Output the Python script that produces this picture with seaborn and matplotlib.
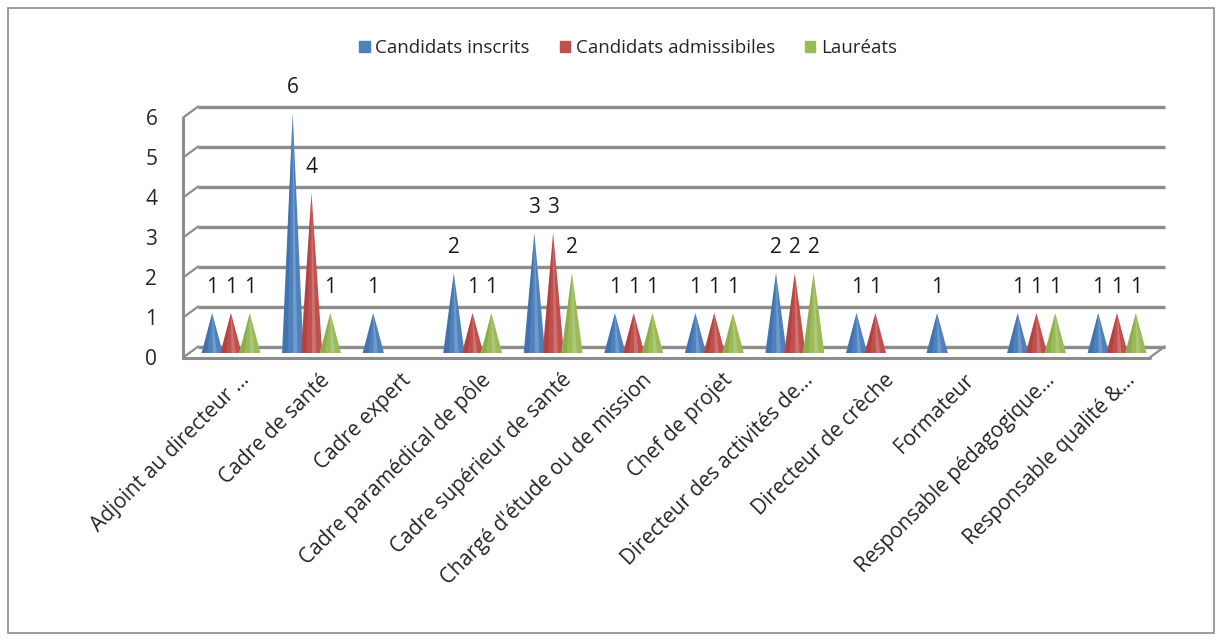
import matplotlib
matplotlib.use("Agg")
import matplotlib.pyplot as plt
import matplotlib.transforms as mtransforms
from matplotlib.patches import Polygon, Rectangle
import seaborn as sns
import pandas as pd

# chart data
categories = ["Adjoint au directeur ...", "Cadre de santé", "Cadre expert",
              "Cadre paramédical de pôle", "Cadre supérieur de santé",
              "Chargé d'étude ou de mission", "Chef de projet",
              "Directeur des activités de...", "Directeur de crèche",
              "Formateur", "Responsable pédagogique...", "Responsable qualité &..."]
inscrits = [1, 6, 1, 2, 3, 1, 1, 2, 1, 1, 1, 1]
admissibles = [1, 4, 0, 1, 3, 1, 1, 2, 1, 0, 1, 1]
laureats = [1, 1, 0, 1, 2, 1, 1, 2, 0, 0, 1, 1]
series = ["Candidats inscrits", "Candidats admissibiles", "Lauréats"]
colors = ["#4F81BD", "#C0504D", "#9BBB59"]
shades = ["#2C5C99", "#9B2F2C", "#76963A"]

df = pd.DataFrame({
    "poste": categories * 3,
    "serie": [series[0]] * 12 + [series[1]] * 12 + [series[2]] * 12,
    "n": inscrits + admissibles + laureats,
})

sns.set_style("white")
plt.rcParams["font.family"] = ["Open Sans", "DejaVu Sans"]

W, H = 1224, 641
fig = plt.figure(figsize=(W / 100, H / 100), dpi=100)
ax = fig.add_axes([190.7 / W, 1 - 353 / H, 966.6 / W, 240 / H])
sns.barplot(data=df, x="poste", y="n", hue="serie", hue_order=series,
            palette=colors, width=0.7, ax=ax, legend=False)

n = len(categories)
ax.set_ylim(0, 6)
ax.set_xlim(-0.5, n - 0.5)

grid = "#8C8C8C"
front = ax.transData + mtransforms.ScaledTranslation(-0.075, -0.045, fig.dpi_scale_trans)
back = ax.transData + mtransforms.ScaledTranslation(0.075, 0.065, fig.dpi_scale_trans)

# back wall grid lines and left wall connectors
for v in range(0, 7):
    ax.plot([-0.5, n - 0.5], [v, v], color=grid, lw=2.4, transform=back,
            zorder=0, clip_on=False, solid_capstyle="butt")
    p0 = front.transform((-0.5, v))
    p1 = back.transform((-0.5, v))
    fig.add_artist(plt.Line2D([p0[0] / W, p1[0] / W], [p0[1] / H, p1[1] / H],
                              color=grid, lw=1.6, transform=fig.transFigure))
# front left wall and floor edge
ax.plot([-0.5, -0.5], [0, 6], color=grid, lw=2.2, transform=front,
        clip_on=False, zorder=0)
ax.plot([-0.5, n - 0.5], [0, 0], color=grid, lw=2.2, transform=front,
        clip_on=False, zorder=0)
q0 = front.transform((n - 0.5, 0))
q1 = back.transform((n - 0.5, 0))
fig.add_artist(plt.Line2D([q0[0] / W, q1[0] / W], [q0[1] / H, q1[1] / H],
                          color=grid, lw=1.6, transform=fig.transFigure))

# turn bars into cones
for cont, col, sh in zip(ax.containers, colors, shades):
    for bar in cont:
        h = bar.get_height()
        w = bar.get_width() * 1.14
        x = bar.get_x() + bar.get_width() / 2 - w / 2
        bar.set_visible(False)
        if h <= 0:
            continue
        ax.add_patch(Polygon([(x, 0), (x + w / 2, h), (x + w, 0)],
                             closed=True, facecolor=col, edgecolor="none",
                             zorder=3))
        ax.add_patch(Polygon([(x + w * 0.04, 0), (x + w / 2, h),
                              (x + w * 0.26, 0)],
                             closed=True, facecolor=sh, edgecolor="none",
                             alpha=0.4, zorder=4))
        ax.add_patch(Polygon([(x + w * 0.52, 0), (x + w / 2, h),
                              (x + w * 0.72, 0)],
                             closed=True, facecolor="white", edgecolor="none",
                             alpha=0.2, zorder=4))
        ax.annotate(str(int(h)), (x + w / 2, h), xytext=(0, 11),
                    textcoords="offset points", ha="center", va="bottom",
                    fontsize=15, color="#1a1a1a")

sns.despine(ax=ax, left=True, bottom=True)
ax.set_xlabel("")
ax.set_ylabel("")
ax.set_yticks(range(0, 7))
ax.set_yticklabels([str(v) for v in range(0, 7)], fontsize=15)
ax.tick_params(axis="y", length=0, pad=24)
for lab in ax.get_yticklabels():
    lab.set_transform(lab.get_transform() + mtransforms.ScaledTranslation(0, -0.04, fig.dpi_scale_trans))
ax.tick_params(axis="x", length=0, pad=12)
ax.set_xticks(range(n))
ax.set_xticklabels(categories, rotation=45, ha="right",
                   rotation_mode="anchor", fontsize=15)
for lab in ax.get_xticklabels():
    lab.set_transform(lab.get_transform() + mtransforms.ScaledTranslation(0.08, 0, fig.dpi_scale_trans))

# legend
handles = [Rectangle((0, 0), 1, 1, color=c) for c in colors]
fig.legend(handles, series, loc="center", bbox_to_anchor=(628 / W, 1 - 48 / H),
           ncol=3, frameon=False, fontsize=13.5, handlelength=0.55,
           handleheight=0.55, columnspacing=1.6, handletextpad=0.3)

# outer chart border
fig.patches.append(Rectangle((8 / W, 8 / H), 1206 / W, 625 / H,
                             transform=fig.transFigure, fill=False,
                             edgecolor="#8C8C8C", lw=1.2))

fig.savefig("out.png", dpi=100)
